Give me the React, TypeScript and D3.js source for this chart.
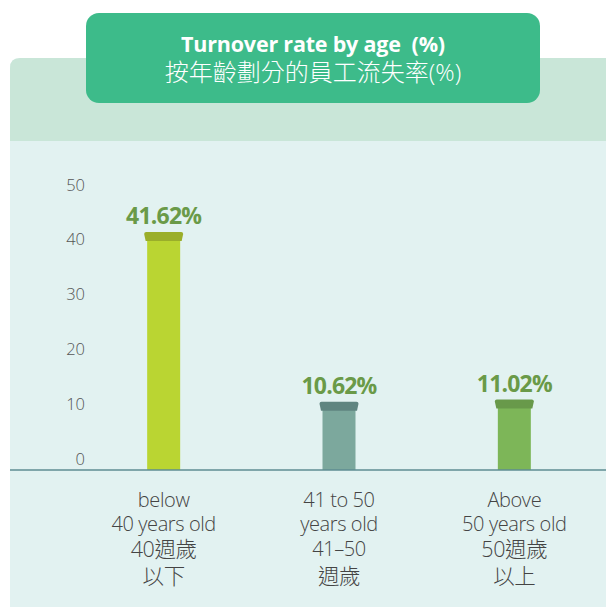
import { scaleLinear, scalePoint } from 'd3';

const categories = ['below40', '41to50', 'above50'];
const values = [41.62, 10.62, 11.02];
const valueLabels = ['41.62%', '10.62%', '11.02%'];
const categoryLines = [
  ['below', '40 years old', '40週歲', '以下'],
  ['41 to 50', 'years old', '41–50', '週歲'],
  ['Above', '50 years old', '50週歲', '以上'],
];
const ticks = [0, 10, 20, 30, 40, 50];
const barColors = ['#bad532', '#7ca89d', '#7db658'];
const capColors = ['#9aae2a', '#5f8580', '#68994a'];

const width = 606;
const height = 607;
const font = '"Open Sans", "Noto Sans CJK TC", sans-serif';

export default function App() {
  const x = scalePoint<string>().domain(categories).range([76, 602]).padding(0.5);
  const y = scaleLinear().domain([0, 50]).range([460, 186]);
  const axisY = 470;
  const barW = 33;
  const capW = 39;
  const capH = 9;

  const capPath = (cx: number, top: number) => {
    const r = 2;
    const l = cx - capW / 2;
    const rr = cx + capW / 2;
    return `M${l + 1.5},${top + capH} L${l},${top + r} Q${l},${top} ${l + r},${top} L${rr - r},${top} Q${rr},${top} ${rr},${top + r} L${rr - 1.5},${top + capH} Z`;
  };

  // CJK-only lines are set slightly larger, as in the original
  const isCjkLine = (s: string) => /^\d*[\u4e00-\u9fff]+$/.test(s);

  return (
    <svg
      width={width}
      height={height}
      style={{ position: 'absolute', left: 0, top: 0, fontFamily: font }}
    >
      <rect width={width} height={height} fill="#ffffff" />
      {/* background panel */}
      <path d={`M10,${height} L10,68 Q10,58 20,58 L${width},58 L${width},${height} Z`} fill="#e2f2f1" />
      <path d={`M10,141 L10,68 Q10,58 20,58 L${width},58 L${width},141 Z`} fill="#c9e6d8" />

      {/* title box */}
      <rect x={86} y={13} width={454} height={90} rx={13} fill="#3dbb8a" />
      <text x={313} y={43} textAnchor="middle" dominantBaseline="central" fill="#fff" fontSize={21.5} fontWeight={700} letterSpacing={-0.2}>
        Turnover rate by age{'\u00a0\u00a0'}(%)
      </text>
      <text x={313} y={71} textAnchor="middle" dominantBaseline="central" fill="#fff" fontSize={24} fontWeight={300}>
        按年齡劃分的員工流失率(%)
      </text>

      {/* y tick labels */}
      {ticks.map((t) => (
        <text key={t} x={85} y={y(t) - 2} textAnchor="end" dominantBaseline="central" fill="#555" fontSize={16.5} fontWeight={300}>
          {t}
        </text>
      ))}

      {/* bars */}
      {categories.map((c, i) => {
        const cx = x(c) as number;
        const top = y(values[i]);
        return (
          <g key={c}>
            <rect x={cx - barW / 2} y={top + capH - 1} width={barW} height={axisY - top - capH + 1} fill={barColors[i]} />
            <path d={capPath(cx, top)} fill={capColors[i]} />
            <text x={cx} y={top - 17} textAnchor="middle" dominantBaseline="central" fill="#6a9a48" fontSize={23} fontWeight={700} letterSpacing={-0.8}>
              {valueLabels[i]}
            </text>
          </g>
        );
      })}

      {/* axis line */}
      <line x1={10} x2={width} y1={axisY} y2={axisY} stroke="#5e8c92" strokeWidth={1.5} />

      {/* category labels */}
      {categories.map((c, i) => {
        const cx = x(c) as number;
        const ys = [499, 523, 548, 575];
        return (
          <g key={c + '-lab'}>
            {categoryLines[i].map((line, j) => (
              <text
                key={j}
                x={cx}
                y={ys[j]}
                textAnchor="middle"
                dominantBaseline="central"
                fill="#444"
                fontSize={isCjkLine(line) ? 21.5 : 20}
                fontWeight={300}
                letterSpacing={-0.4}
              >
                {line}
              </text>
            ))}
          </g>
        );
      })}
    </svg>
  );
}
